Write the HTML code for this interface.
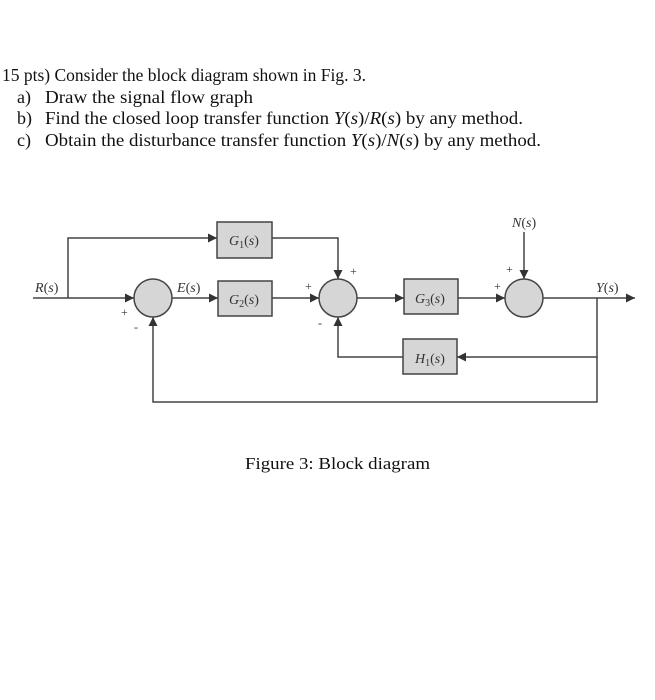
<!DOCTYPE html>
<html><head><meta charset="utf-8"><style>
html,body{margin:0;padding:0;background:#fff;}
svg{display:block;}
</style></head><body>
<svg width="655" height="700" viewBox="0 0 655 700" xmlns="http://www.w3.org/2000/svg" font-family="Liberation Serif, serif">
<defs>
<marker id="a" viewBox="0 0 10 10" refX="10" refY="5" markerWidth="9" markerHeight="9" markerUnits="userSpaceOnUse" orient="auto">
<path d="M0,0 L10,5 L0,10 z" fill="#333"/></marker>
</defs>
<g font-size="18" fill="#111">
<text x="2" y="81" textLength="364" lengthAdjust="spacingAndGlyphs">15 pts) Consider the block diagram shown in Fig. 3.</text>
<text x="17" y="103">a)</text><text x="45" y="103" textLength="208" lengthAdjust="spacingAndGlyphs">Draw the signal flow graph</text>
<text x="17" y="124">b)</text><text x="45" y="124" textLength="478" lengthAdjust="spacingAndGlyphs">Find the closed loop transfer function <tspan font-style="italic">Y</tspan>(<tspan font-style="italic">s</tspan>)/<tspan font-style="italic">R</tspan>(<tspan font-style="italic">s</tspan>) by any method.</text>
<text x="17" y="146">c)</text><text x="45" y="146" textLength="496" lengthAdjust="spacingAndGlyphs">Obtain the disturbance transfer function <tspan font-style="italic">Y</tspan>(<tspan font-style="italic">s</tspan>)/<tspan font-style="italic">N</tspan>(<tspan font-style="italic">s</tspan>) by any method.</text>
<text x="245" y="469" font-size="17" textLength="185" lengthAdjust="spacingAndGlyphs">Figure 3: Block diagram</text>
</g>
<g stroke="#444" stroke-width="1.5" fill="none">
<!-- R to sum1 -->
<line x1="33" y1="298" x2="134" y2="298" marker-end="url(#a)"/>
<!-- branch to G1 -->
<polyline points="68,298 68,238 217,238" marker-end="url(#a)"/>
<!-- G1 to sum2 -->
<polyline points="272,238 338,238 338,279" marker-end="url(#a)"/>
<!-- sum1 to G2 -->
<line x1="172" y1="298" x2="218" y2="298" marker-end="url(#a)"/>
<!-- G2 to sum2 -->
<line x1="272" y1="298" x2="319" y2="298" marker-end="url(#a)"/>
<!-- sum2 to G3 -->
<line x1="357" y1="298" x2="404" y2="298" marker-end="url(#a)"/>
<!-- G3 to sum3 -->
<line x1="458" y1="298" x2="505" y2="298" marker-end="url(#a)"/>
<!-- N -->
<line x1="524" y1="232" x2="524" y2="279" marker-end="url(#a)"/>
<!-- output -->
<line x1="543" y1="298" x2="635" y2="298" marker-end="url(#a)"/>
<!-- H1 loop -->
<polyline points="597,298 597,357 457,357" marker-end="url(#a)"/>
<polyline points="403,357 338,357 338,317" marker-end="url(#a)"/>
<!-- outer loop -->
<polyline points="597,357 597,402 153,402 153,317" marker-end="url(#a)"/>
</g>
<g fill="#d6d6d6" stroke="#444" stroke-width="1.5">
<circle cx="153" cy="298" r="19"/>
<circle cx="338" cy="298" r="19"/>
<circle cx="524" cy="298" r="19"/>
<rect x="217" y="222" width="55" height="36"/>
<rect x="218" y="281" width="54" height="35"/>
<rect x="404" y="279" width="54" height="35"/>
<rect x="403" y="339" width="54" height="35"/>
</g>
<g font-size="14" fill="#333" font-style="italic">
<text x="229" y="245">G<tspan font-size="10" font-style="normal" dy="3">1</tspan><tspan dy="-3" font-style="normal">(</tspan>s<tspan font-style="normal">)</tspan></text>
<text x="229" y="304">G<tspan font-size="10" font-style="normal" dy="3">2</tspan><tspan dy="-3" font-style="normal">(</tspan>s<tspan font-style="normal">)</tspan></text>
<text x="415" y="303">G<tspan font-size="10" font-style="normal" dy="3">3</tspan><tspan dy="-3" font-style="normal">(</tspan>s<tspan font-style="normal">)</tspan></text>
<text x="415" y="363">H<tspan font-size="10" font-style="normal" dy="3">1</tspan><tspan dy="-3" font-style="normal">(</tspan>s<tspan font-style="normal">)</tspan></text>
<text x="35" y="292">R<tspan font-style="normal">(</tspan>s<tspan font-style="normal">)</tspan></text>
<text x="177" y="292">E<tspan font-style="normal">(</tspan>s<tspan font-style="normal">)</tspan></text>
<text x="512" y="227">N<tspan font-style="normal">(</tspan>s<tspan font-style="normal">)</tspan></text>
<text x="596" y="292">Y<tspan font-style="normal">(</tspan>s<tspan font-style="normal">)</tspan></text>
</g>
<g font-size="12" fill="#333">
<text x="121" y="316">+</text>
<text x="134" y="331">-</text>
<text x="305" y="290">+</text>
<text x="318" y="327">-</text>
<text x="350" y="275">+</text>
<text x="494" y="290">+</text>
<text x="506" y="273">+</text>
</g>
</svg>
</body></html>
